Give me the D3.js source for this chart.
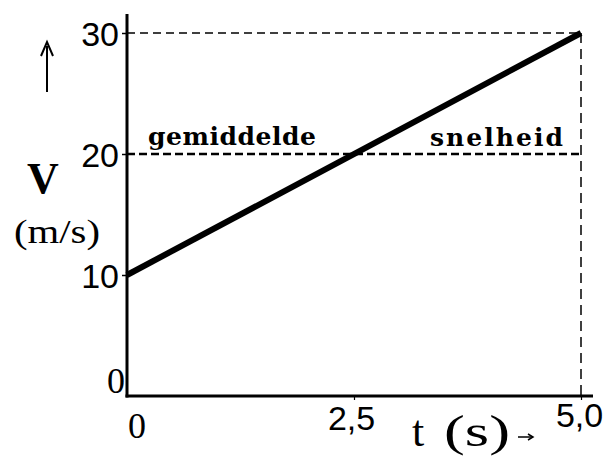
<!DOCTYPE html>
<html><head><meta charset="utf-8">
<script src="https://cdn.jsdelivr.net/npm/d3@7"></script>
<style>html,body{margin:0;padding:0;background:#fff;}svg{display:block;}</style>
</head><body>
<svg id="c" width="615" height="457"></svg>
<script>
// data
const lineTimes = [0, 5];
const lineSpeeds = [10, 30];
const yTicks = [10, 20, 30];
const yTickLabels = ["10", "20", "30"];
const xTicks = [2.5, 5];
const xTickLabels = ["2,5", "5,0"];
const avgSpeed = 20;
const avgLabels = ["gemiddelde", "snelheid"];
const yTitle = "V", yUnit = "(m/s)", xTitleParts = ["t ", "(s)"];

const svg = d3.select("#c");
const x = d3.scaleLinear().domain([0, 5]).range([127, 581]);
const y = d3.scaleLinear().domain([0, 30]).range([396, 33]);
const sans = "'Liberation Sans', Arial, sans-serif";
const serif = "'Liberation Serif', 'Times New Roman', serif";
const wserif = "'DejaVu Serif', serif";

// dashed guide lines
svg.append("line").attr("x1", x(0)).attr("x2", x(5)).attr("y1", y(30)).attr("y2", y(30))
  .attr("stroke", "#000").attr("stroke-width", 1.5).attr("stroke-dasharray", "8,5");
svg.append("line").attr("x1", x(0)).attr("x2", x(5)).attr("y1", y(avgSpeed)).attr("y2", y(avgSpeed))
  .attr("stroke", "#000").attr("stroke-width", 2.5).attr("stroke-dasharray", "8,4");
svg.append("line").attr("x1", x(5)).attr("x2", x(5)).attr("y1", y(30)).attr("y2", y(0))
  .attr("stroke", "#000").attr("stroke-width", 1.5).attr("stroke-dasharray", "10,6");

// axes
const yAxis = d3.axisLeft(y).tickValues(yTicks).tickFormat((d, i) => yTickLabels[i]).tickSize(5).tickPadding(3);
const gy = svg.append("g").attr("transform", `translate(${x(0)},0)`).call(yAxis);
gy.select(".domain").remove();
gy.selectAll("line").attr("stroke", "#000").attr("stroke-width", 1.5);
gy.selectAll("text").attr("font-family", sans).attr("font-size", 34).attr("fill", "#000").attr("dy", "0.36em");

const xAxis = d3.axisBottom(x).tickValues(xTicks).tickFormat((d, i) => xTickLabels[i]).tickSize(4).tickPadding(0);
const gx = svg.append("g").attr("transform", `translate(0,${y(0)})`).call(xAxis);
gx.select(".domain").remove();
gx.selectAll("line").attr("stroke", "#000").attr("stroke-width", 1.2);
gx.selectAll("text").attr("font-family", sans).attr("font-size", 34).attr("fill", "#000")
  .attr("dy", null).attr("y", (d) => d === 5 ? 31 : 34).attr("dx", (d) => d === 5 ? -2 : -3);

// axis lines
svg.append("line").attr("x1", x(0)).attr("x2", x(0)).attr("y1", 14).attr("y2", y(0) + 1.5)
  .attr("stroke", "#000").attr("stroke-width", 3);
svg.append("line").attr("x1", x(0) - 1.5).attr("x2", 593).attr("y1", y(0)).attr("y2", y(0))
  .attr("stroke", "#000").attr("stroke-width", 3);

// zero labels (serif)
svg.append("text").attr("x", x(0) - 2).attr("y", y(0) - 3).attr("text-anchor", "end")
  .attr("font-family", serif).attr("font-size", 36).text("0");
svg.append("text").attr("x", x(0) + 10).attr("y", y(0) + 42).attr("text-anchor", "middle")
  .attr("font-family", serif).attr("font-size", 36).text("0");

// main line
svg.append("path")
  .attr("d", d3.line().x((d, i) => x(lineTimes[i])).y((d) => y(d))(lineSpeeds))
  .attr("stroke", "#000").attr("stroke-width", 6).attr("fill", "none");

// average labels
svg.append("text").attr("x", 148).attr("y", y(avgSpeed) - 9).attr("font-family", wserif)
  .attr("font-size", 25).attr("font-weight", "bold").attr("textLength", 168).attr("lengthAdjust", "spacing")
  .text(avgLabels[0]);
svg.append("text").attr("x", 430).attr("y", y(avgSpeed) - 8).attr("font-family", wserif)
  .attr("font-size", 25).attr("font-weight", "bold").attr("textLength", 133).attr("lengthAdjust", "spacing")
  .text(avgLabels[1]);

// y titles
svg.append("text").attr("x", 43).attr("y", 193).attr("text-anchor", "middle").attr("font-family", serif)
  .attr("font-size", 44).attr("font-weight", "bold").text(yTitle);
svg.append("text").attr("x", 14).attr("y", 243).attr("font-family", serif)
  .attr("font-size", 34).attr("textLength", 86).attr("lengthAdjust", "spacingAndGlyphs").text(yUnit);
// up arrow
svg.append("line").attr("x1", 47).attr("x2", 47).attr("y1", 46).attr("y2", 92).attr("stroke", "#000").attr("stroke-width", 2);
svg.append("path").attr("d", "M41,56 L47,42 L53,56").attr("fill", "none").attr("stroke", "#000").attr("stroke-width", 2);

// x title
const xt = svg.append("text").attr("y", 446).attr("font-family", serif).attr("font-size", 44);
xt.append("tspan").attr("x", 412).text(xTitleParts[0]);
xt.append("tspan").attr("x", 444).attr("textLength", 66).attr("lengthAdjust", "spacingAndGlyphs")
  .text(xTitleParts[1]);
// right arrow
svg.append("line").attr("x1", 518).attr("x2", 532).attr("y1", 437).attr("y2", 437).attr("stroke", "#000").attr("stroke-width", 1.5);
svg.append("path").attr("d", "M528,434 L533,437 L528,440").attr("fill", "none").attr("stroke", "#000").attr("stroke-width", 1.5);
</script>
</body></html>
